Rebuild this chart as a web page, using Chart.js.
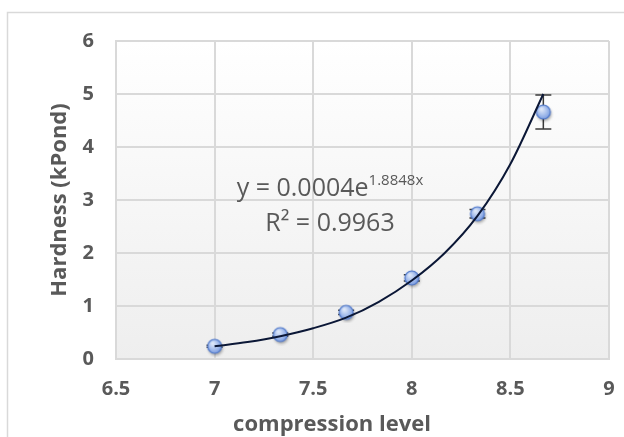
<!DOCTYPE html>
<html>
<head>
<meta charset="utf-8">
<script src="https://cdn.jsdelivr.net/npm/chart.js@4.4.1/dist/chart.umd.min.js"></script>
<style>
html, body { margin: 0; padding: 0; background: #fff; }
#wrap { width: 624px; height: 437px; }
</style>
</head>
<body>
<div id="wrap"><canvas id="myChart" width="624" height="437"></canvas></div>
<script>
// hardness vs compression level
var compression = [7, 7.333, 7.667, 8, 8.333, 8.667];
var hardness = [0.24, 0.46, 0.88, 1.53, 2.74, 4.66];
var hardnessErr = [0.02, 0.03, 0.04, 0.06, 0.08, 0.32];
// exponential trend line
var trendX = [7, 7.167, 7.333, 7.5, 7.667, 7.833, 8, 8.167, 8.333, 8.5, 8.667];
var trendY = [0.24, 0.32, 0.43, 0.58, 0.78, 1.08, 1.48, 2.0, 2.70, 3.68, 5.0];
var xTicks = [6.5, 7, 7.5, 8, 8.5, 9];
var yTicks = [0, 1, 2, 3, 4, 5, 6];
var xTitle = 'compression level';
var yTitle = 'Hardness (kPond)';
var eqMain = 'y = 0.0004e';
var eqExp = '1.8848x';
var eqR2 = 'R² = 0.9963';

var grey = '#595959';
Chart.defaults.font.family = "'Open Sans', 'DejaVu Sans', sans-serif";
Chart.defaults.color = grey;

function makeMarker() {
    var c = document.createElement('canvas');
    c.width = 22; c.height = 22;
    var g = c.getContext('2d');
    g.shadowColor = 'rgba(0,0,0,0.35)';
    g.shadowBlur = 3;
    g.shadowOffsetX = 1;
    g.shadowOffsetY = 2;
    var grad = g.createRadialGradient(9, 8, 1, 11, 11, 8);
    grad.addColorStop(0, '#dce6f8');
    grad.addColorStop(0.6, '#9db7ea');
    grad.addColorStop(1, '#6f93dc');
    g.beginPath();
    g.arc(11, 11, 7, 0, Math.PI * 2);
    g.fillStyle = grad;
    g.fill();
    g.shadowColor = 'transparent';
    g.lineWidth = 1.2;
    g.strokeStyle = '#4f77c9';
    g.stroke();
    return c;
}

var points = compression.map(function (x, i) { return { x: x, y: hardness[i] }; });
var trend = trendX.map(function (x, i) { return { x: x, y: trendY[i] }; });

var background = {
    id: 'background',
    beforeDraw: function (chart) {
        var ctx = chart.ctx, a = chart.chartArea;
        ctx.save();
        ctx.fillStyle = '#fff';
        ctx.fillRect(0, 0, chart.width, chart.height);
        ctx.strokeStyle = '#d9d9d9';
        ctx.lineWidth = 1.5;
        ctx.strokeRect(7.5, 12.5, chart.width + 20, chart.height + 20);
        var grad = ctx.createLinearGradient(0, a.top, 0, a.bottom);
        grad.addColorStop(0, '#ffffff');
        grad.addColorStop(1, '#eeeeee');
        ctx.fillStyle = grad;
        ctx.fillRect(a.left, a.top, a.right - a.left, a.bottom - a.top);
        ctx.restore();
    }
};

var errorBars = {
    id: 'errorBars',
    beforeDatasetsDraw: function (chart) {
        var ctx = chart.ctx, xs = chart.scales.x, ys = chart.scales.y;
        ctx.save();
        ctx.strokeStyle = '#3a3a3a';
        ctx.lineWidth = 1.5;
        for (var i = 0; i < compression.length; i++) {
            var px = xs.getPixelForValue(compression[i]);
            var top = ys.getPixelForValue(hardness[i] + hardnessErr[i]);
            var bot = ys.getPixelForValue(hardness[i] - hardnessErr[i]);
            ctx.beginPath();
            ctx.moveTo(px, top); ctx.lineTo(px, bot);
            ctx.moveTo(px - 8, top); ctx.lineTo(px + 8, top);
            ctx.moveTo(px - 8, bot); ctx.lineTo(px + 8, bot);
            ctx.stroke();
        }
        ctx.restore();
    }
};

var texts = {
    id: 'texts',
    afterDatasetsDraw: function (chart) {
        var ctx = chart.ctx, xs = chart.scales.x, ys = chart.scales.y;
        var cx = xs.getPixelForValue(7.585);
        ctx.save();
        ctx.fillStyle = grey;
        ctx.textBaseline = 'alphabetic';
        ctx.textAlign = 'left';
        var mainFont = "25px 'Open Sans'";
        var expFont = "15px 'Open Sans'";
        ctx.font = mainFont;
        var w1 = ctx.measureText(eqMain).width;
        ctx.font = expFont;
        var w2 = ctx.measureText(eqExp).width;
        var y1 = ys.getPixelForValue(3.07);
        var x1 = cx - (w1 + w2) / 2;
        ctx.font = mainFont;
        ctx.fillText(eqMain, x1, y1);
        ctx.font = expFont;
        ctx.fillText(eqExp, x1 + w1, y1 - 11);
        ctx.font = mainFont;
        ctx.textAlign = 'center';
        ctx.fillText(eqR2, cx, ys.getPixelForValue(2.41));
        // x axis title, Excel puts it a bit left of the plot centre
        ctx.font = "bold 22px 'Open Sans'";
        ctx.fillText(xTitle, 332, 431);
        ctx.restore();
    }
};

function plainLabel(value) { return String(value); }

var ctx = document.getElementById('myChart').getContext('2d');
var myChart = new Chart(ctx, {
    type: 'scatter',
    data: {
        datasets: [{
            label: 'trend',
            data: trend,
            showLine: true,
            borderColor: '#0b1736',
            borderWidth: 2,
            pointRadius: 0,
            cubicInterpolationMode: 'monotone'
        }, {
            label: 'hardness',
            data: points,
            pointStyle: makeMarker(),
            pointRadius: 8
        }]
    },
    options: {
        responsive: false,
        animation: false,
        devicePixelRatio: 1,
        layout: { padding: { top: 41, right: 15, left: 0, bottom: 0 } },
        plugins: { legend: { display: false }, tooltip: { enabled: false } },
        scales: {
            x: {
                type: 'linear',
                min: xTicks[0],
                max: xTicks[xTicks.length - 1],
                afterBuildTicks: function (s) { s.ticks = xTicks.map(function (v) { return { value: v }; }); },
                afterFit: function (s) { s.height = 78; s.paddingRight = 0; s.paddingLeft = 0; },
                grid: { color: '#d9d9d9', lineWidth: 2, drawTicks: false },
                border: { color: '#d9d9d9', width: 2 },
                ticks: { padding: 18, font: { size: 20, weight: 'bold' }, color: grey, callback: plainLabel },
                title: { display: false }
            },
            y: {
                type: 'linear',
                min: yTicks[0],
                max: yTicks[yTicks.length - 1],
                afterBuildTicks: function (s) { s.ticks = yTicks.map(function (v) { return { value: v }; }); },
                afterFit: function (s) { s.width = 116; },
                grid: { color: '#d9d9d9', lineWidth: 2, drawTicks: false },
                border: { color: '#d9d9d9', width: 2 },
                ticks: { padding: 22, font: { size: 20, weight: 'bold' }, color: grey, callback: plainLabel },
                title: { display: true, text: yTitle, color: grey,
                         font: { size: 22, weight: 'bold' }, padding: { top: 47, bottom: 0 } }
            }
        }
    },
    plugins: [background, errorBars, texts]
});
</script>
</body>
</html>
